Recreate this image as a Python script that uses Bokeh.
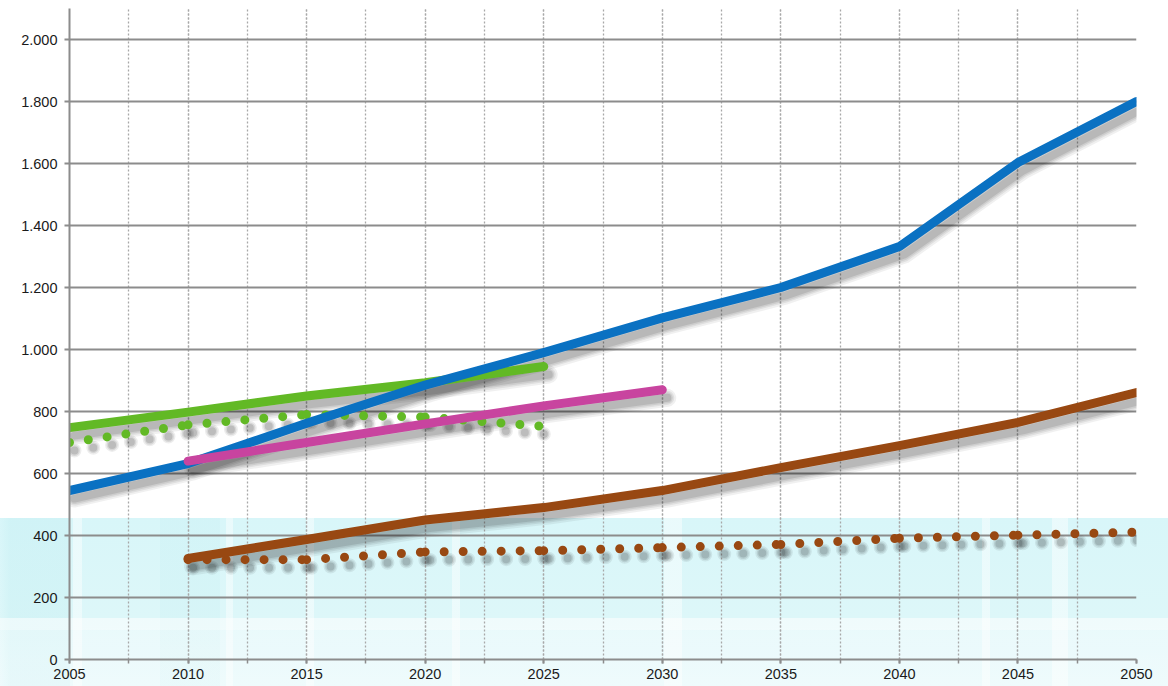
import numpy as np
from bokeh.plotting import figure
from bokeh.models import FixedTicker, Range1d
from bokeh.embed import file_html
from bokeh.resources import INLINE

# ---------------- data ----------------
YEARS_BLUE = [2005, 2010, 2015, 2020, 2025, 2030, 2035, 2040, 2045, 2050]
BLUE = [545, 632, 762, 885, 990, 1102, 1200, 1332, 1603, 1800]

YEARS_GREEN = [2005, 2010, 2015, 2020, 2025]
GREEN_SOLID = [748, 798, 850, 893, 945]
GREEN_DOTTED = [700, 757, 790, 782, 752]

YEARS_MAGENTA = [2010, 2015, 2020, 2025, 2030]
MAGENTA = [640, 700, 760, 818, 870]

YEARS_BROWN = [2010, 2015, 2020, 2025, 2030, 2035, 2040, 2045, 2050]
BROWN_SOLID = [326, 387, 450, 490, 545, 619, 690, 765, 861]
BROWN_DOTTED = [322, 322, 347, 351, 361, 371, 391, 401, 411]

X_TICKS = [2005, 2010, 2015, 2020, 2025, 2030, 2035, 2040, 2045, 2050]
X_MINOR = [2005 + 2.5 * i for i in range(19)]
Y_TICKS = [0, 200, 400, 600, 800, 1000, 1200, 1400, 1600, 1800, 2000]
Y_LABELS = ["0", "200", "400", "600", "800", "1.000", "1.200", "1.400",
            "1.600", "1.800", "2.000"]

C_BLUE = "#0a71c2"
C_GREEN = "#62b925"
C_MAGENTA = "#c8449f"
C_BROWN = "#984812"

# ---------------- figure ----------------
W, H = 1168, 686
BL, BR, BT, BB = 69, 32, 8, 27
p = figure(width=W, height=H, output_backend="svg", toolbar_location=None,
           x_range=Range1d(2005, 2050), y_range=Range1d(0, 2100),
           min_border_left=BL, min_border_right=BR, min_border_top=BT,
           min_border_bottom=BB)
p.outline_line_color = None
p.background_fill_alpha = 0
p.border_fill_alpha = 0

# watercolor-like band behind the transparent canvas (decoration only)
band_top = 518
wt = "rgba(255,255,255,0.45)"
stripes = []
for (a, b) in [(73, 82), (226, 233), (306, 314), (452, 460), (664, 682),
               (982, 990), (1052, 1068)]:
    stripes.append(f"linear-gradient(to right, transparent {a}px, {wt} {a}px, {wt} {b}px, transparent {b}px)")
stripes.append("linear-gradient(to bottom, transparent 100px, rgba(255,255,255,0.55) 100px, "
               "rgba(255,255,255,0.55) 112px, rgba(255,255,255,0.35) 112px)")
blocks = ("linear-gradient(to right, rgba(190,236,240,0.0) 0px, rgba(190,236,240,0.3) 10px, "
          "rgba(190,236,240,0.3) 70px, transparent 70px, transparent 160px, "
          "rgba(190,236,240,0.2) 160px, rgba(190,236,240,0.2) 220px, transparent 220px)")
layers = stripes + [blocks,
                    "linear-gradient(to bottom, #d8f6f9 0px, #ddf7f9 60%, #e6f9fb 100%)"]
p.styles = {
    "background-color": "white",
    "background-image": ", ".join(layers),
    "background-position": f"0px {band_top}px",
    "background-size": f"100% {H - band_top}px",
    "background-repeat": "no-repeat",
}

# frame scales (for shadow offsets)
frame_w = W - BL - BR
frame_h = H - BT - BB
px_x = frame_w / 45.0
px_y = frame_h / 2100.0
SDX = 5 / px_x
SDY = 8 / px_y

# axes
p.xaxis.ticker = FixedTicker(ticks=X_TICKS, minor_ticks=X_MINOR)
p.yaxis.ticker = FixedTicker(ticks=Y_TICKS)
p.yaxis.major_label_overrides = {t: l for t, l in zip(Y_TICKS, Y_LABELS)}

for ax in (p.xaxis[0], p.yaxis[0]):
    ax.axis_line_color = "#8c8c8c"
    ax.axis_line_width = 2
    ax.major_tick_line_color = "#8c8c8c"
    ax.major_tick_line_width = 2
    ax.major_tick_in = 0
    ax.major_tick_out = 5
    ax.major_label_text_font = "Liberation Sans"
    ax.major_label_text_font_size = "14.5px"
    ax.major_label_text_color = "#1a1a1a"

p.xaxis.minor_tick_line_color = "#8c8c8c"
p.xaxis.minor_tick_line_width = 1.5
p.xaxis.minor_tick_in = 0
p.xaxis.minor_tick_out = 4
p.xaxis.major_tick_out = 4
p.xaxis.major_label_standoff = 5
p.yaxis.minor_tick_line_color = None
p.yaxis.major_label_standoff = 7

# grids
p.xgrid.grid_line_color = "#a8a8a8"
p.xgrid.grid_line_width = 1.3
p.xgrid.grid_line_dash = "2 2"
p.xgrid.minor_grid_line_color = "#a8a8a8"
p.xgrid.minor_grid_line_width = 1.3
p.xgrid.minor_grid_line_dash = "2 2"
p.ygrid.grid_line_color = "#8c8c8c"
p.ygrid.grid_line_width = 1.8

SHADOW_W = [18, 14, 11, 8]
SHADOW_A = [0.06, 0.07, 0.08, 0.1]
DOT = "0 19"
LW = 9


def solid_shadow(xs, ys):
    xs = np.asarray(xs, dtype=float)
    ys = np.asarray(ys, dtype=float)
    for w, a in zip(SHADOW_W, SHADOW_A):
        p.line(xs + SDX, ys - SDY, line_color="black", line_alpha=a,
               line_width=w, line_cap="round", line_join="round")
    return xs, ys


def dotted_shadow(xs, ys):
    xs = np.asarray(xs, dtype=float)
    ys = np.asarray(ys, dtype=float)
    segx = [[xs[i], xs[i + 1]] for i in range(len(xs) - 1)]
    segy = [[ys[i], ys[i + 1]] for i in range(len(ys) - 1)]
    sx = [[v + SDX for v in s] for s in segx]
    sy = [[v - SDY for v in s] for s in segy]
    for w, a in zip([14, 11, 8], [0.07, 0.09, 0.12]):
        p.multi_line(sx, sy, line_color="black", line_alpha=a, line_width=w,
                     line_cap="round", line_dash=DOT)
    return segx, segy


series_solid = [(YEARS_GREEN, GREEN_SOLID, C_GREEN),
                (YEARS_BLUE, BLUE, C_BLUE),
                (YEARS_MAGENTA, MAGENTA, C_MAGENTA),
                (YEARS_BROWN, BROWN_SOLID, C_BROWN)]
series_dot = [(YEARS_GREEN, GREEN_DOTTED, C_GREEN),
              (YEARS_BROWN, BROWN_DOTTED, C_BROWN)]

dot_segs = [dotted_shadow(x, y) for x, y, c in series_dot]
solid_xy = [solid_shadow(x, y) for x, y, c in series_solid]

for (segx, segy), (_, _, c) in zip(dot_segs, series_dot):
    p.multi_line(segx, segy, line_color=c, line_width=LW, line_cap="round",
                 line_dash=DOT)
for (xs, ys), (_, _, c) in zip(solid_xy, series_solid):
    p.line(xs, ys, line_color=c, line_width=LW, line_cap="round",
           line_join="round")

open("out.html", "w").write(file_html(p, INLINE))
